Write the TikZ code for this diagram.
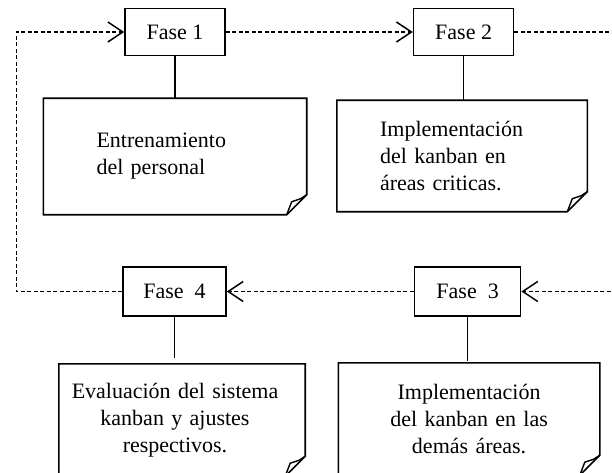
\documentclass[tikz,border=0pt]{standalone}
\usepackage{fontspec}
\setmainfont{Liberation Serif}
\usetikzlibrary{positioning,arrows.meta}

% hoja con la esquina doblada
\newcommand{\hoja}[1]{%
  \draw[line width=1.6pt] (#1.north west) -- (#1.north east)
    -- ([yshift=20pt]#1.south east) -- ([xshift=-20pt]#1.south east)
    -- (#1.south west) -- cycle;
  \draw[line width=1.4pt,line join=round] ([xshift=-20pt]#1.south east) -- ++(5,-13)
    -- ++(9,-3) -- ([yshift=20pt]#1.south east);}

\begin{document}
\begin{tikzpicture}[x=1pt,y=-1pt]
\tikzstyle{fase}=[draw,line width=1.6pt,minimum width=100pt,minimum height=47pt,inner sep=0pt,font=\fontsize{22}{26}\selectfont]
\tikzstyle{nota}=[inner ysep=0pt,font=\fontsize{22}{27}\selectfont]
\tikzstyle{flujo}=[line width=1.3pt,dash pattern=on 4pt off 2.5pt,-{Straight Barb[length=15pt,width=20pt,line width=1.5pt]}]
\useasboundingbox (0,0) rectangle (612,473);
\node [fase] (f1) at (175,32) {Fase 1};
\node [fase,right=187pt of f1] (f2) {Fase 2};
\node [fase,minimum width=103pt,minimum height=49pt] (f4) at (174.5,291.5) {Fase\enspace 4};
\node [fase,minimum width=106pt,minimum height=49pt,right=187pt of f4] (f3) {Fase\enspace 3};
\node [nota,below=42pt of f1,text width=157pt,inner xsep=53pt,minimum height=116pt,align=left] (n1)
  {Entrenamiento\\ del personal};
\node [nota,below=44pt of f2,xshift=-1.5pt,text width=164pt,inner xsep=43pt,minimum height=111pt,align=left] (n2)
  {Implementación\\ del kanban en\\ áreas criticas.};
\node [nota,below=47pt of f4,xshift=7.5pt,text width=236pt,inner xsep=5pt,minimum height=112pt,align=center] (n3)
  {\hspace*{-14pt}Evaluación del sistema\\ \hspace*{-14pt}kanban y ajustes\\ \hspace*{-14pt}respectivos.\\[4pt]};
\node [nota,below=46pt of f3,xshift=1.5pt,text width=251pt,inner xsep=5pt,minimum height=112pt,align=center] (n4)
  {Implementación\\ del kanban en las\\ demás áreas.\\[6pt]};
\hoja{n1}
\hoja{n2}
\hoja{n3}
\hoja{n4}
\draw[line width=1.6pt] (f1.south) -- (f1.south |- n1.north);
\draw[line width=1.6pt] (f2.south) -- (f2.south |- n2.north);
\draw[line width=1.6pt] (f4.south) -- ([yshift=6pt]f4.south |- n3.north);
\draw[line width=1.6pt] (f3.south) -- ([yshift=2pt]f3.south |- n4.north);
\draw[flujo] (f1.east) -- (f2.west);
\draw[flujo] (f2.east) -- ++(100.5,0) |- (f3.east);
\draw[flujo] (f3.west) -- (f4.east);
\draw[flujo] (f4.west) -- ++(-106,0) |- (f1.west);
\end{tikzpicture}
\end{document}
